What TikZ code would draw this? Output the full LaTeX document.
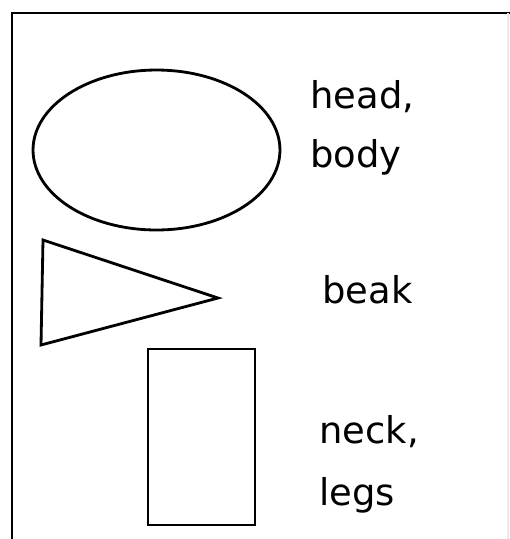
\documentclass[tikz,border=0pt]{standalone}
\usepackage{fontspec}
\setmainfont{DejaVu Sans}
\tikzset{
  shapeline/.style={draw=black, line width=1.6pt, line join=miter},
  partlbl/.style={anchor=base west, inner sep=0pt, font=\fontsize{21}{25}\selectfont}
}
\begin{document}
\begin{tikzpicture}[x=0.02cm, y=-0.02cm]
        \useasboundingbox (0,0) rectangle (510,539);
        % Rahmen
        \draw[line width=1.6pt] (12,539) -- (12,13) -- (510,13);
        \draw[black!8, line width=0.8pt] (508,13) -- (508,539);

        % Kopf und Koerper
        \draw[shapeline] (156.5,150) ellipse [x radius=2.47cm, y radius=1.6cm];
        \node[partlbl] (head) at (310,108) {head,};
        \node[partlbl] (body) at (310,167) {body};

        % Schnabel
        \draw[shapeline] (43,240) -- (218,298) -- (41,345) -- cycle;
        \node[partlbl] (beak) at (322,303) {beak};

        % Hals und Beine
        \draw[shapeline] (148,349) rectangle (255,525);
        \node[partlbl] (neck) at (319,443) {neck,};
        \node[partlbl] (legs) at (319,505) {legs};
    \end{tikzpicture}
\end{document}
